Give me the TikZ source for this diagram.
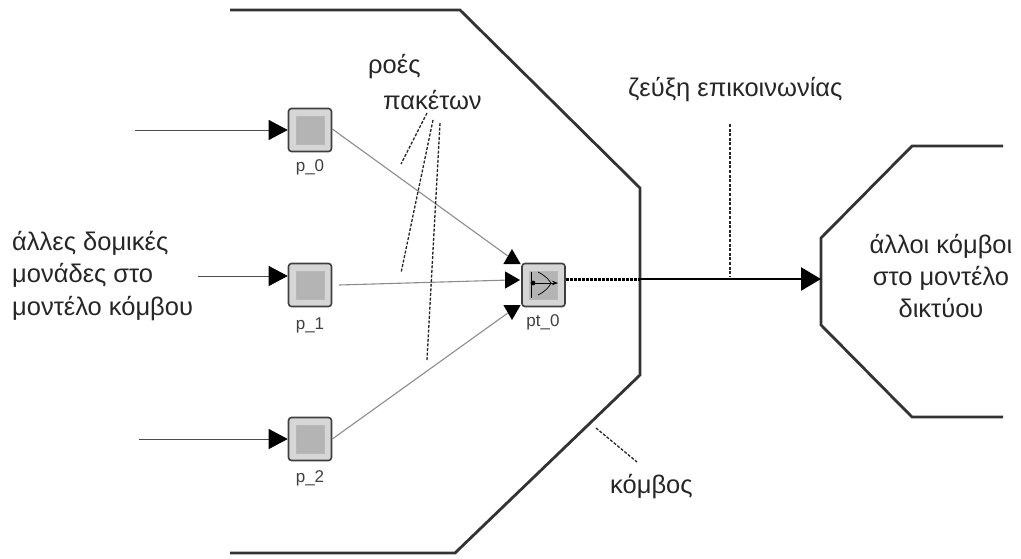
\documentclass[tikz,border=0pt]{standalone}
\usepackage{fontspec}
\setmainfont{Liberation Sans}
\usepackage{tikz}
\usetikzlibrary{positioning,arrows.meta,shapes.geometric}
\definecolor{blockgray}{HTML}{B4B4B4}
\definecolor{linegray}{HTML}{8C8C8C}
\tikzset{
  figlabel/.style={font=\fontsize{25.5}{27}\selectfont, text=black!85, align=left, inner sep=0pt},
  blocklabel/.style={font=\fontsize{17}{19}\selectfont, text=black!75, inner sep=0pt},
  procblock/.style={draw=black!75, line width=1.6pt, rounded corners=3pt, fill=black!16,
    minimum width=43pt, minimum height=43pt, inner sep=0pt},
  procinner/.style={draw=black!28, line width=1pt, fill=blockgray,
    minimum width=28pt, minimum height=28pt, inner sep=0pt},
  headtri/.style={regular polygon, regular polygon sides=3, fill=black, inner sep=0pt, minimum size=20pt},
  wall/.style={line width=2.8pt, black!80},
  feedline/.style={-{Triangle[length=19pt,width=20pt,color=black]}, line width=0.8pt, black!70},
  flowline/.style={line width=1.1pt, linegray},
  leader/.style={dash pattern=on 3pt off 1.6pt, line width=1.3pt, black!85},
}
\begin{document}
\begin{tikzpicture}[x=1pt,y=-1pt]
  \useasboundingbox (0,0) rectangle (1021,558);
  % node walls
  \draw[wall] (230,10) -- (460,10) -- (640,188) -- (640,375) -- (455,553) -- (230,553);
  \draw[wall] (1003,146) -- (912,146) -- (821,238) -- (821,325) -- (912,417) -- (1003,417);
  % blocks
  \node[procblock] (p0) at (310,130) {};
  \node[procinner] at (p0) {};
  \node[blocklabel] (p0l) at (310,167) {p\_0};
  \node[procblock] (p1) at (310,285) {};
  \node[procinner] at (p1) {};
  \node[blocklabel] (p1l) at (310,325) {p\_1};
  \node[procblock] (p2) at (310,439) {};
  \node[procinner] at (p2) {};
  \node[blocklabel] (p2l) at (310,478) {p\_2};
  \node[procblock] (pt0) at (543.5,285) {};
  \node[procinner] (pt0i) at (pt0) {};
  \draw[line width=1pt] (531,272) -- (531,298);
  \draw[line width=0.8pt, -{Stealth[length=6pt]}] (533,283) -- (558,283);
  \draw[line width=0.7pt] (538,272) .. controls (546,276) and (549,280) .. (551,283) .. controls (549,287) and (546,291) .. (538,295);
  \fill (533,283) circle (2.4);
  \node[blocklabel] (pt0l) at (543,322) {pt\_0};
  % heads at pt_0
  \node[headtri] (h0) at (512,259) {};
  \node[headtri, shape border rotate=-90] (h1) at (510,280) {};
  \node[headtri, shape border rotate=180] (h2) at (512,310) {};
  % packet streams
  \draw[flowline] (p0.east) ++(0,-1) -- (h0);
  \draw[flowline] (339,285) -- (h1);
  \draw[flowline] (p2.east) -- (h2);
  % feeds
  \coordinate (in0) at (135,130);
  \coordinate (in1) at (198,276);
  \coordinate (in2) at (139,439);
  \draw[feedline] (in0) -- (p0.west);
  \draw[feedline] (in1) -- (p1.west |- in1);
  \draw[feedline] (in2) -- (p2.west);
  % link
  \coordinate (wallpt) at (640,279);
  \coordinate (farwall) at (821,279);
  \draw[densely dotted, line width=3pt] (pt0.east |- wallpt) -- (wallpt);
  \draw[line width=2.6pt, -{Triangle[length=20pt,width=23pt]}] (wallpt) -- (farwall);
  % labels
  \node[figlabel, anchor=west] (others) at (12,276) {άλλες δομικές\\[5.5pt]μονάδες στο\\[5.5pt]μοντέλο κόμβου};
  \node[figlabel, align=center] (nodes) at (941,276) {άλλοι κόμβοι\\[5pt]στο μοντέλο\\[5pt]δικτύου};
  \node[figlabel, anchor=west] (roes) at (368,67) {ροές};
  \node[figlabel, anchor=west] (paketa) at (383,100) {πακέτων};
  \node[figlabel, anchor=west] (zeuxi) at (628,90) {ζεύξη επικοινωνίας};
  \node[figlabel, anchor=west] (komvos) at (610,487) {κόμβος};
  % leaders
  \coordinate (a0) at (427,113);
  \coordinate (b0) at (401,164);
  \coordinate (a1) at (433,120);
  \coordinate (b1) at (401,273);
  \coordinate (a2) at (440,123);
  \coordinate (b2) at (427,360);
  \coordinate (a3) at (730,124);
  \coordinate (b3) at (730,276);
  \coordinate (a4) at (596,428);
  \coordinate (b4) at (637,462);
  \draw[leader] (a0) -- (b0);
  \draw[leader] (a1) -- (b1);
  \draw[leader] (a2) -- (b2);
  \draw[leader] (a3) -- (b3);
  \draw[leader] (a4) -- (b4);
\end{tikzpicture}
\end{document}
